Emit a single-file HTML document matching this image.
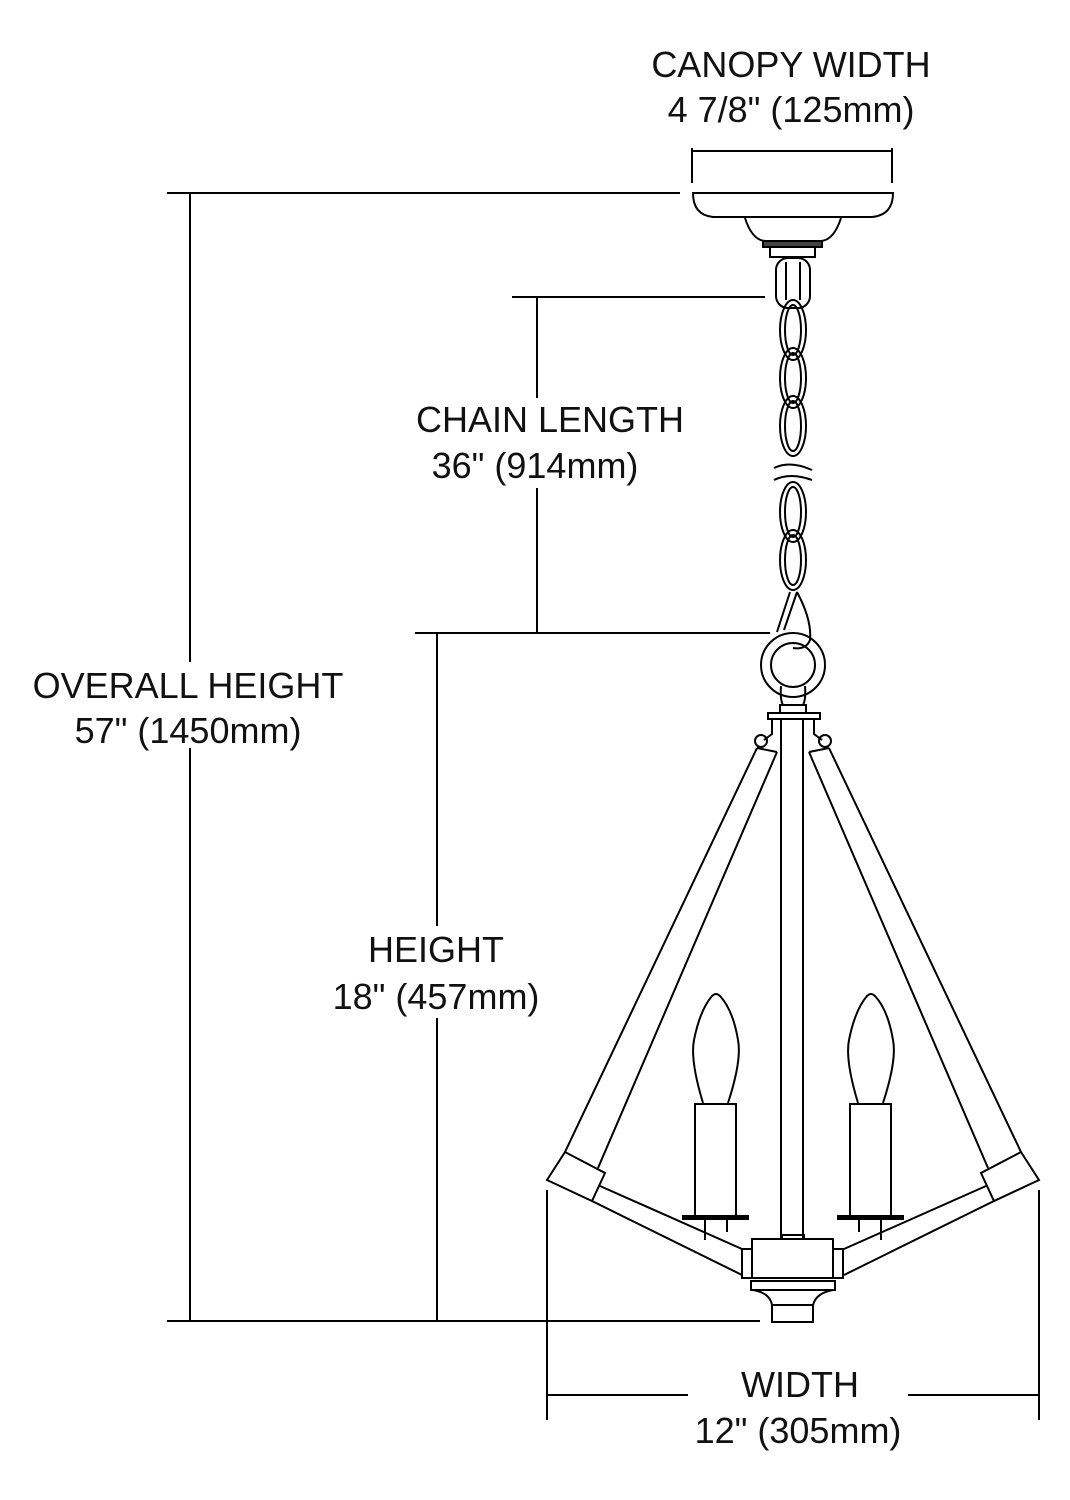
<!DOCTYPE html>
<html><head><meta charset="utf-8"><style>
html,body{margin:0;padding:0;background:#fff}
svg{display:block}
text{font-family:"Liberation Sans",sans-serif;font-size:36px;fill:#111;text-anchor:middle}
</style></head><body>
<svg width="1070" height="1500" viewBox="0 0 1070 1500" xmlns="http://www.w3.org/2000/svg">
<g fill="none" stroke="#000" stroke-width="2">
<!-- dimension lines -->
<line x1="167" y1="193" x2="680" y2="193"/>
<line x1="167" y1="1321" x2="760" y2="1321"/>
<line x1="190" y1="193" x2="190" y2="1321"/>
<line x1="512" y1="297" x2="765" y2="297"/>
<line x1="415" y1="633" x2="770" y2="633"/>
<line x1="537" y1="297" x2="537" y2="633"/>
<line x1="437" y1="633" x2="437" y2="1321"/>
<line x1="547" y1="1190" x2="547" y2="1420"/>
<line x1="1039" y1="1190" x2="1039" y2="1420"/>
<line x1="547" y1="1395" x2="688" y2="1395"/>
<line x1="908" y1="1395" x2="1039" y2="1395"/>
<line x1="692" y1="148" x2="692" y2="183"/>
<line x1="892" y1="148" x2="892" y2="183"/>
<line x1="692" y1="151" x2="892" y2="151"/>
<!-- canopy -->
<path d="M693 193 H893 Q893 215 872 217 H713 Q693 215 693 193 Z"/>
<path d="M745 218 Q752 240 765 241 H821 Q834 240 841 218"/>
<rect x="763" y="241" width="59" height="6" fill="#444"/>
<rect x="770" y="247" width="45" height="10"/>
<!-- top swivel -->
<rect x="776" y="258" width="34" height="50" rx="12"/>
<line x1="786" y1="262" x2="786" y2="300"/>
<line x1="800" y1="262" x2="800" y2="300"/>
<!-- chain links -->
<ellipse cx="793" cy="330" rx="13" ry="30"/><ellipse cx="793" cy="330" rx="8" ry="25"/>
<ellipse cx="793" cy="378" rx="13" ry="30"/><ellipse cx="793" cy="378" rx="8" ry="25"/>
<ellipse cx="793" cy="426" rx="13" ry="30"/><ellipse cx="793" cy="426" rx="8" ry="25"/>
<ellipse cx="793" cy="512" rx="13" ry="30"/><ellipse cx="793" cy="512" rx="8" ry="25"/>
<ellipse cx="793" cy="560" rx="13" ry="30"/><ellipse cx="793" cy="560" rx="8" ry="25"/>
<path d="M774 468 Q790 460 812 470 M774 480 Q790 472 812 480" stroke-width="2"/>
<!-- hook -->
<path d="M790 592 L777 632 M797 592 L784 630 M797 592 Q812 620 810 640 Q806 650 793 648"/>
<!-- ring -->
<circle cx="793" cy="665" r="32"/><circle cx="793" cy="665" r="22"/>
<path d="M781 686 Q780 700 783 705 H803 Q806 700 805 686"/>
<rect x="780" y="705" width="26" height="8"/>
<rect x="768" y="713" width="52" height="6"/>
<rect x="781" y="719" width="22" height="520"/>
<!-- hooks -->
<path d="M772 719 V734 L764 740 M814 719 V734 L822 740"/>
<circle cx="761" cy="741" r="6"/><circle cx="825" cy="741" r="6"/>
<!-- arms top -->
<line x1="757" y1="748" x2="565" y2="1152"/>
<line x1="777" y1="752" x2="598" y2="1168"/>
<line x1="829" y1="748" x2="1021" y2="1152"/>
<line x1="809" y1="752" x2="988" y2="1168"/>
<line x1="757" y1="748" x2="777" y2="752"/>
<line x1="829" y1="748" x2="809" y2="752"/>
<!-- caps -->
<polygon points="547,1180 565,1152 605,1173 592,1201"/>
<polygon points="1039,1180 1021,1152 981,1173 994,1201"/>
<!-- lower arms -->
<line x1="600" y1="1186" x2="742" y2="1249"/>
<line x1="592" y1="1201" x2="742" y2="1275"/>
<line x1="986" y1="1186" x2="844" y2="1249"/>
<line x1="994" y1="1201" x2="844" y2="1275"/>
<!-- hub -->
<rect x="752" y="1239" width="81" height="39"/>
<rect x="742" y="1249" width="10" height="29"/>
<rect x="833" y="1249" width="10" height="29"/>
<rect x="782" y="1235" width="22" height="4"/>
<rect x="751" y="1281" width="84" height="9"/>
<path d="M753 1290 Q770 1293 772 1305 H813 Q816 1293 833 1290"/>
<rect x="772" y="1305" width="41" height="17"/>
<!-- candles -->
<path d="M703 1103 Q690 1060 694 1040 Q700 1010 712 996 Q716 992 720 996 Q733 1010 738 1040 Q742 1060 728 1103"/>
<rect x="695" y="1104" width="41" height="113"/>
<rect x="683" y="1216" width="65" height="3" fill="#000"/>
<line x1="705" y1="1219" x2="705" y2="1240"/><line x1="727" y1="1219" x2="727" y2="1232"/>
<path d="M858 1103 Q845 1060 849 1040 Q855 1010 867 996 Q871 992 875 996 Q888 1010 893 1040 Q897 1060 883 1103"/>
<rect x="850" y="1104" width="41" height="113"/>
<rect x="838" y="1216" width="65" height="3" fill="#000"/>
<line x1="859" y1="1219" x2="859" y2="1232"/><line x1="881" y1="1219" x2="881" y2="1240"/>
</g>
<rect x="25" y="662" width="325" height="86" fill="#fff"/>
<rect x="410" y="398" width="280" height="90" fill="#fff"/>
<rect x="328" y="926" width="216" height="92" fill="#fff"/>
<text x="791" y="77">CANOPY WIDTH</text>
<text x="791" y="122">4 7/8" (125mm)</text>
<text x="550" y="432">CHAIN LENGTH</text>
<text x="535" y="478">36" (914mm)</text>
<text x="188" y="698">OVERALL HEIGHT</text>
<text x="188" y="743">57" (1450mm)</text>
<text x="436" y="962">HEIGHT</text>
<text x="436" y="1009">18" (457mm)</text>
<text x="800" y="1397">WIDTH</text>
<text x="798" y="1443">12" (305mm)</text>
</svg>
</body></html>
